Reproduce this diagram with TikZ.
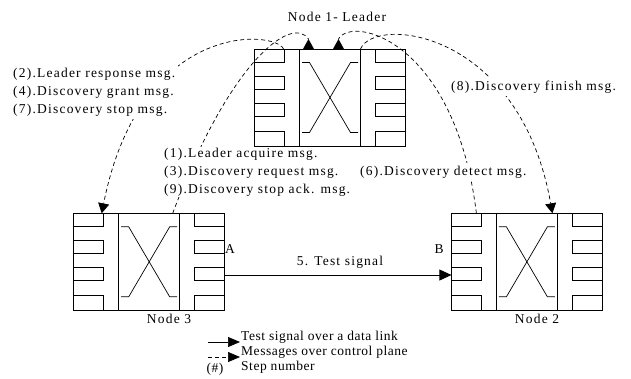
\documentclass[tikz,border=0pt]{standalone}
\usepackage{fontspec}
\usepackage{tikz}
\usetikzlibrary{arrows.meta,positioning,calc}
\newfontfamily\lblfont{Liberation Serif}[LetterSpace=9]
\newfontfamily\legfont{Liberation Serif}[LetterSpace=4]

\begin{document}
\begin{tikzpicture}[
  x=1pt, y=-1pt,
  unit/.style={draw,line width=0.8pt,minimum width=151pt,minimum height=97pt,inner sep=0pt,outer sep=0pt},
  part/.style={line width=0.7pt},
  lbl/.style={font=\lblfont\fontsize{13.5}{18}\selectfont,fill=white,inner sep=3pt,align=left},
  tag/.style={font=\lblfont\fontsize{13.5}{16}\selectfont,inner sep=0pt},
  leg/.style={font=\legfont\fontsize{13.5}{16}\selectfont,inner sep=1pt},
  msgline/.style={dash pattern=on 4pt off 3pt,line width=0.7pt},
  msg/.style={msgline,-{Triangle[length=10pt,width=11pt]}},
  data/.style={line width=0.7pt,-{Triangle[length=12pt,width=11pt]}}
]
\useasboundingbox (0,0) rectangle (631,378);
\node[unit] (n1) at (330,97.5) {};
\node[unit] (n3) at (149.2,261.8) {};
\node[unit,right=226.7pt of n3] (n2) {};
\foreach \n in {n1,n2,n3}{
  \begin{scope}[shift={(\n.center)}]
    \foreach \t/\b in {-48.5/-35,-21.5/-8,5.5/19,33.5/48.5}{
      \draw[part] (-75.5,\t) rectangle (-45.5,\b);
      \draw[part] (45.5,\t) rectangle (75.5,\b);
    }
    \draw[part] (-30.5,-48.5) rectangle (30.5,48.5);
    \draw[part] (-28,-35) -- (-20.5,-35) -- (20.5,35) -- (28,35);
    \draw[part] (-28,35) -- (-20.5,35) -- (20.5,-35) -- (28,-35);
  \end{scope}
}
\draw[msg] ($(n1.north west)+(29,0)$) .. controls (275,30) and (140,20) .. ($(n3.north west)+(28,0)$);
\draw[msgline] ($(n3.north west)+(99,0)$) .. controls (230,60) and (292,15) .. ($(n1.north west)+(54,-10)$);
\fill ($(n1.north west)+(48.5,0)$) -- ($(n1.north west)+(59.5,0)$) -- ($(n1.north west)+(54,-10)$) -- cycle;
\draw[msgline] ($(n2.north west)+(25,0)$) .. controls (455,40) and (352,15) .. ($(n1.north west)+(84,-10)$);
\fill ($(n1.north west)+(78.5,0)$) -- ($(n1.north west)+(89.5,0)$) -- ($(n1.north west)+(84,-10)$) -- cycle;
\draw[msg] ($(n1.north west)+(106,0)$) .. controls (375,15) and (520,30) .. ($(n2.north west)+(101,0)$);

\node[lbl,anchor=west] (m247) at (10,92) {(2).Leader response msg.\\(4).Discovery grant msg.\\(7).Discovery stop msg.};
\node[lbl,anchor=west,inner ysep=1pt] (m139) at (161,172) {(1).Leader acquire msg.\\(3).Discovery request msg.\\(9).Discovery stop ack. msg.};
\node[lbl,anchor=west] (m6) at (357,172) {(6).Discovery detect msg.};
\node[lbl,anchor=west] (m8) at (448,87) {(8).Discovery finish msg.};

\node[tag] (t1) at (337,17) {Node 1- Leader};
\node[tag] (t3) at (169,319) {Node 3};
\node[tag] (t2) at (537,319) {Node 2};
\node[tag] (pa) at (230,249) {A};
\node[tag] (pb) at (439,249) {B};
\node[tag] (sig) at (340,262) {5. Test signal};
\draw[data] ([yshift=-13.2pt]n3.east) -- ([yshift=-13.2pt]n2.west);

\node[leg,anchor=west] (lg1) at (240,337) {Test signal over a data link};
\node[leg,anchor=west] (lg2) at (240,352) {Messages over control plane};
\node[leg,anchor=west] (lg3) at (240,367) {Step number};
\node[leg] (lg4) at (215,369.5) {(\#)};
\coordinate (k1) at (208,342);
\coordinate (k2) at (208,357);
\draw[data,-{Triangle[length=12pt,width=10pt]}] (k1) -- (k1 -| lg1.west);
\draw[msg,-{Triangle[length=12pt,width=10pt]}] (k2) -- (k2 -| lg2.west);
\end{tikzpicture}
\end{document}
